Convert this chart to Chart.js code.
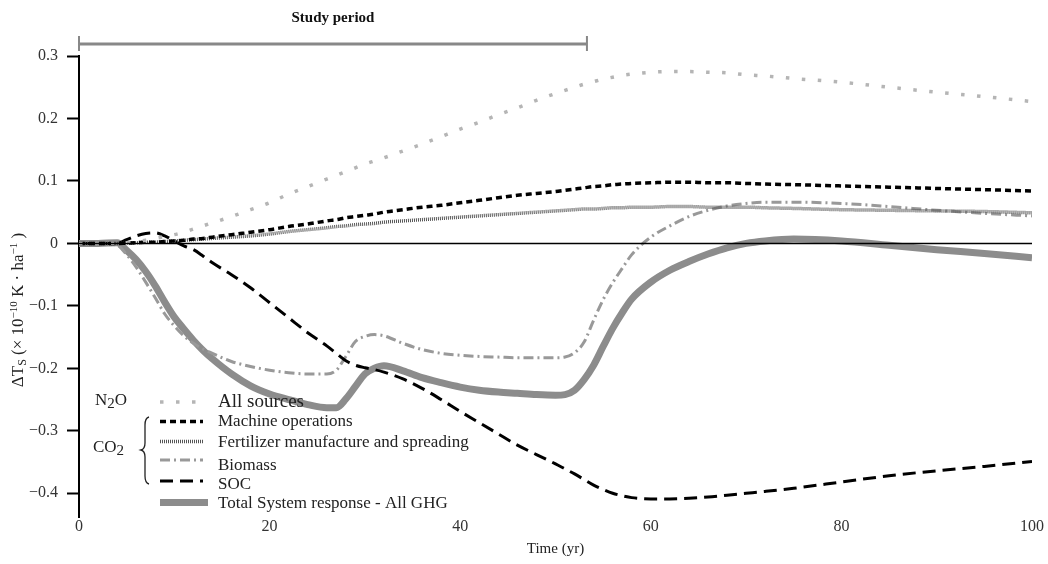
<!DOCTYPE html>
<html>
<head>
<meta charset="utf-8">
<title>Temperature response by source</title>
<script src="https://cdn.jsdelivr.net/npm/chart.js@4.4.1/dist/chart.umd.min.js"></script>
<style>
  html, body { margin: 0; padding: 0; background: #fff; }
  #wrap { width: 1048px; height: 564px; }
</style>
</head>
<body>
<div id="wrap"><canvas id="chart" width="1048" height="564"></canvas></div>
<script>
// Time axis (yr)
const years = [0, 2, 4, 5, 6, 7, 8, 9, 10, 11, 12, 13, 14, 16, 18, 20, 22, 24, 26, 27, 28, 29, 30, 31, 32,
  34, 36, 38, 40, 42, 44, 46, 48, 50, 51, 52, 53, 54, 55, 56, 57, 58, 60, 62, 64, 66, 68, 70, 72, 75,
  80, 85, 90, 95, 100];

// N2O - all sources
const allSources = [0, 0, 0.0005, 0.001, 0.003, 0.005, 0.008, 0.011, 0.014, 0.018, 0.023, 0.028, 0.033,
  0.043, 0.054, 0.065, 0.079, 0.091, 0.103, 0.109, 0.115, 0.121, 0.127, 0.132, 0.137,
  0.148, 0.159, 0.171, 0.183, 0.194, 0.206, 0.217, 0.229, 0.240, 0.245, 0.250, 0.255, 0.259, 0.263,
  0.266, 0.269, 0.271, 0.274, 0.275, 0.275, 0.274, 0.273, 0.270, 0.268, 0.264,
  0.258, 0.250, 0.242, 0.235, 0.227];

// CO2 - machine operations
const machineOps = [0, 0, 0, 0.0005, 0.001, 0.002, 0.002, 0.003, 0.004, 0.005, 0.007, 0.008, 0.010,
  0.014, 0.018, 0.022, 0.027, 0.031, 0.036, 0.038, 0.041, 0.043, 0.045, 0.047, 0.050,
  0.054, 0.058, 0.061, 0.065, 0.069, 0.073, 0.077, 0.080, 0.083, 0.085, 0.087, 0.089, 0.091, 0.092,
  0.094, 0.095, 0.096, 0.097, 0.098, 0.098, 0.097, 0.097, 0.096, 0.095, 0.094,
  0.092, 0.090, 0.088, 0.086, 0.084];

// CO2 - fertilizer manufacture and spreading
const fertilizer = [0, 0, 0, 0.0005, 0.001, 0.002, 0.002, 0.003, 0.004, 0.005, 0.006, 0.007, 0.008,
  0.010, 0.012, 0.015, 0.019, 0.022, 0.025, 0.027, 0.028, 0.030, 0.031, 0.032, 0.034,
  0.036, 0.038, 0.040, 0.042, 0.044, 0.046, 0.048, 0.050, 0.052, 0.053, 0.054, 0.055, 0.055, 0.056,
  0.057, 0.057, 0.058, 0.058, 0.059, 0.059, 0.058, 0.058, 0.058, 0.057, 0.056,
  0.054, 0.053, 0.052, 0.051, 0.049];

// CO2 - biomass
const biomass = [0, 0, -0.003, -0.018, -0.038, -0.062, -0.087, -0.113, -0.132, -0.148, -0.160, -0.169, -0.176,
  -0.189, -0.197, -0.203, -0.207, -0.209, -0.209, -0.203, -0.181, -0.157, -0.149, -0.146, -0.148,
  -0.160, -0.170, -0.176, -0.179, -0.181, -0.182, -0.183, -0.183, -0.183, -0.182, -0.175, -0.158, -0.123, -0.090,
  -0.063, -0.040, -0.018, 0.010, 0.028, 0.043, 0.053, 0.060, 0.064, 0.066, 0.066,
  0.064, 0.059, 0.053, 0.048, 0.044];

// CO2 - soil organic carbon
const soc = [0, 0, 0, 0.006, 0.012, 0.016, 0.017, 0.012, 0.004, -0.004, -0.010, -0.020, -0.031,
  -0.050, -0.071, -0.095, -0.119, -0.143, -0.164, -0.176, -0.188, -0.195, -0.199, -0.202, -0.206,
  -0.217, -0.232, -0.250, -0.269, -0.287, -0.305, -0.323, -0.338, -0.353, -0.361, -0.369, -0.378, -0.387, -0.394,
  -0.400, -0.404, -0.407, -0.409, -0.409, -0.408, -0.406, -0.403, -0.400, -0.397, -0.392,
  -0.382, -0.372, -0.364, -0.357, -0.349];

// Total system response - all GHG
const total = [0, 0, 0.001, -0.011, -0.026, -0.045, -0.068, -0.094, -0.118, -0.137, -0.155, -0.171, -0.185,
  -0.209, -0.228, -0.241, -0.250, -0.258, -0.263, -0.263, -0.249, -0.229, -0.209, -0.200, -0.196,
  -0.204, -0.215, -0.223, -0.230, -0.235, -0.238, -0.240, -0.242, -0.243, -0.242, -0.235, -0.218, -0.195, -0.165,
  -0.136, -0.111, -0.089, -0.062, -0.043, -0.029, -0.017, -0.007, 0.000, 0.004, 0.007,
  0.004, -0.003, -0.010, -0.016, -0.023];

const xTicks = [0, 20, 40, 60, 80, 100];
const yTicks = [-0.4, -0.3, -0.2, -0.1, 0, 0.1, 0.2, 0.3];
const studyPeriod = [0, 53.3];

const SERIF = "'Liberation Serif', 'DejaVu Serif', serif";

const styles = {
  allSources: { borderColor: '#b5b5b5', borderWidth: 3.5, borderDash: [3.5, 12.5] },
  machine:    { borderColor: '#000000', borderWidth: 3.5, borderDash: [6, 4] },
  fertilizer: { borderColor: '#555555', borderWidth: 3.5, borderDash: [1, 1] },
  biomass:    { borderColor: '#999999', borderWidth: 3, borderDash: [10, 4, 2, 4] },
  soc:        { borderColor: '#000000', borderWidth: 3, borderDash: [13, 7] },
  total:      { borderColor: '#8c8c8c', borderWidth: 7, borderDash: [] }
};

function toPoints(values) {
  return years.map((t, i) => ({ x: t, y: values[i] }));
}

function makeDataset(label, values, style) {
  return Object.assign({
    label: label,
    data: toPoints(values),
    pointRadius: 0,
    fill: false,
    cubicInterpolationMode: 'monotone',
    borderCapStyle: 'butt'
  }, style);
}

// Draw a line sample for the legend
function drawSample(ctx, x1, x2, y, style) {
  ctx.save();
  ctx.strokeStyle = style.borderColor;
  ctx.lineWidth = style.borderWidth;
  ctx.setLineDash(style.borderDash);
  ctx.beginPath();
  ctx.moveTo(x1, y);
  ctx.lineTo(x2, y);
  ctx.stroke();
  ctx.restore();
}

// Draw text made of pieces (subscripts / superscripts)
function drawRich(ctx, parts, x, y, align) {
  let width = 0;
  parts.forEach(p => {
    ctx.font = (p.bold ? 'bold ' : '') + p.size + 'px ' + SERIF;
    p.w = ctx.measureText(p.t).width;
    width += p.w;
  });
  let cx = align === 'center' ? x - width / 2 : x;
  parts.forEach(p => {
    ctx.font = (p.bold ? 'bold ' : '') + p.size + 'px ' + SERIF;
    ctx.fillText(p.t, cx, y + (p.dy || 0));
    cx += p.w;
  });
}

const decorations = {
  id: 'decorations',
  beforeDatasetsDraw(chart) {
    const ctx = chart.ctx;
    // legend line samples
    const x1 = 160, x2 = 203;
    drawSample(ctx, x1, x2, 402, styles.allSources);
    drawSample(ctx, x1, x2, 421.5, styles.machine);
    drawSample(ctx, x1, x2, 441.5, styles.fertilizer);
    drawSample(ctx, x1, x2, 460, styles.biomass);
    drawSample(ctx, x1, x2, 481, styles.soc);
    drawSample(ctx, x1, 208, 502.5, styles.total);
  },
  afterDatasetsDraw(chart) {
    const ctx = chart.ctx;
    const xs = chart.scales.x, ys = chart.scales.y;
    ctx.save();

    // legend text
    ctx.fillStyle = '#222';
    ctx.textBaseline = 'middle';
    ctx.textAlign = 'left';
    ctx.font = '19px ' + SERIF;
    ctx.fillText('All sources', 218, 402);
    ctx.font = '17px ' + SERIF;
    ctx.fillText('Machine operations', 218, 421.5);
    ctx.fillText('Fertilizer manufacture and spreading', 218, 442.5);
    ctx.fillText('Biomass', 218, 466);
    ctx.fillText('SOC', 218, 485);
    ctx.fillText('Total System response - All GHG', 218, 504);

    drawRich(ctx, [{ t: 'N', size: 17 }, { t: '2', size: 15, dy: 3 }, { t: 'O', size: 17 }], 95, 401, 'left');
    drawRich(ctx, [{ t: 'CO', size: 17 }, { t: '2', size: 15, dy: 3 }], 93, 448, 'left');

    // brace grouping the CO2 entries
    ctx.strokeStyle = '#222';
    ctx.lineWidth = 1.3;
    ctx.beginPath();
    ctx.moveTo(149, 417);
    ctx.quadraticCurveTo(145, 418, 145, 425);
    ctx.lineTo(145, 443);
    ctx.quadraticCurveTo(145, 449, 141, 450);
    ctx.quadraticCurveTo(145, 451, 145, 457);
    ctx.lineTo(145, 476);
    ctx.quadraticCurveTo(145, 483, 149, 484);
    ctx.stroke();

    // zero line
    ctx.strokeStyle = '#000';
    ctx.lineWidth = 1.5;
    ctx.beginPath();
    ctx.moveTo(xs.getPixelForValue(0), ys.getPixelForValue(0));
    ctx.lineTo(xs.getPixelForValue(100), ys.getPixelForValue(0));
    ctx.stroke();

    // study period bar
    const sx1 = xs.getPixelForValue(studyPeriod[0]);
    const sx2 = xs.getPixelForValue(studyPeriod[1]);
    const by = 44;
    ctx.strokeStyle = '#888';
    ctx.lineWidth = 3;
    ctx.beginPath();
    ctx.moveTo(sx1, by);
    ctx.lineTo(sx2, by);
    ctx.stroke();
    ctx.lineWidth = 2;
    ctx.beginPath();
    ctx.moveTo(sx1, by - 8); ctx.lineTo(sx1, by + 7);
    ctx.moveTo(sx2, by - 8); ctx.lineTo(sx2, by + 7);
    ctx.stroke();
    ctx.fillStyle = '#111';
    ctx.textAlign = 'center';
    ctx.textBaseline = 'middle';
    ctx.font = 'bold 15px ' + SERIF;
    ctx.fillText('Study period', (sx1 + sx2) / 2, 18);

    // y axis title
    ctx.translate(19, 310);
    ctx.rotate(-Math.PI / 2);
    ctx.textAlign = 'left';
    ctx.fillStyle = '#222';
    drawRich(ctx, [
      { t: '\u0394T', size: 17 }, { t: 'S', size: 12, dy: 4 },
      { t: ' (\u00d7 10', size: 17 }, { t: '\u221210', size: 11, dy: -5 },
      { t: ' K \u00b7 ha', size: 17 }, { t: '\u22121', size: 11, dy: -5 },
      { t: ' )', size: 17 }
    ], 0, 0, 'center');
    ctx.restore();
  }
};

function fmtY(v) {
  if (Math.abs(v) < 1e-9) return '0';
  return (v < 0 ? '\u2212' : '') + Math.abs(v).toFixed(1);
}

new Chart(document.getElementById('chart'), {
  type: 'line',
  data: {
    datasets: [
      makeDataset('All sources', allSources, styles.allSources),
      makeDataset('Machine operations', machineOps, styles.machine),
      makeDataset('Fertilizer manufacture and spreading', fertilizer, styles.fertilizer),
      makeDataset('SOC', soc, styles.soc),
      makeDataset('Biomass', biomass, styles.biomass),
      makeDataset('Total System response - All GHG', total, styles.total)
    ]
  },
  options: {
    responsive: false,
    animation: false,
    events: [],
    layout: { padding: { left: 0, top: 56, right: 16, bottom: 0 } },
    plugins: {
      legend: { display: false },
      tooltip: { enabled: false }
    },
    scales: {
      x: {
        type: 'linear',
        min: 0,
        max: 100,
        afterBuildTicks: s => { s.ticks = xTicks.map(v => ({ value: v })); },
        afterFit: s => { s.height = 47; },
        grid: { display: false, drawTicks: false },
        border: { display: false },
        ticks: {
          padding: 0,
          color: '#333',
          font: { family: SERIF, size: 16 },
          callback: v => String(v)
        },
        title: {
          display: true,
          text: 'Time (yr)',
          color: '#222',
          font: { family: SERIF, size: 15 },
          padding: { top: 0, bottom: 6 }
        }
      },
      y: {
        min: -0.438,
        max: 0.3,
        afterBuildTicks: s => { s.ticks = yTicks.map(v => ({ value: v })); },
        afterFit: s => { s.width = 79; },
        grid: {
          drawOnChartArea: false,
          drawTicks: true,
          tickLength: 12,
          tickWidth: 2,
          tickColor: '#000'
        },
        border: { display: true, color: '#000', width: 2 },
        ticks: {
          padding: 9,
          color: '#333',
          font: { family: SERIF, size: 16 },
          callback: v => fmtY(v)
        }
      }
    }
  },
  plugins: [decorations]
});
</script>
</body>
</html>
